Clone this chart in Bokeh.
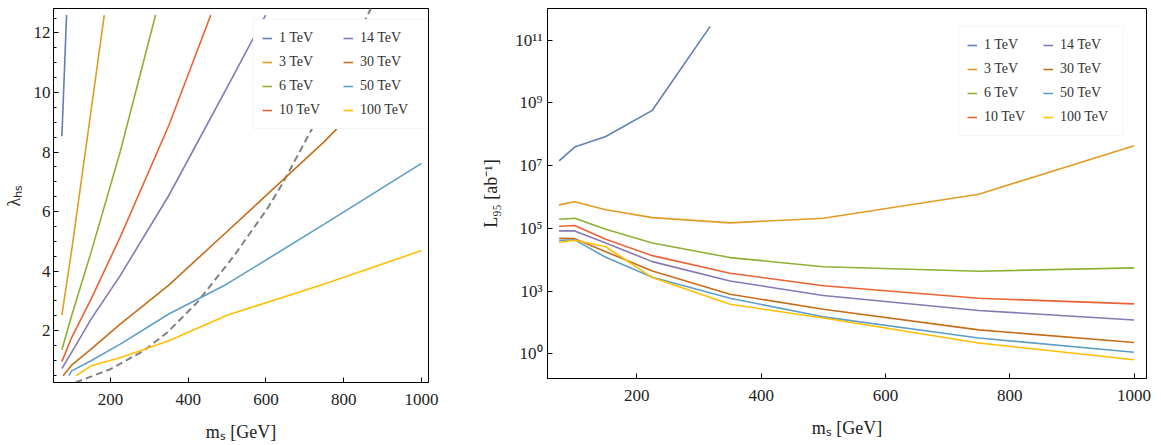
from bokeh.plotting import figure
from bokeh.models import Range1d, FixedTicker, Legend, LegendItem
from bokeh.layouts import row
from bokeh.embed import file_html
from bokeh.resources import INLINE

# ---------------- data ----------------
labels = ["1 TeV", "3 TeV", "6 TeV", "10 TeV", "14 TeV", "30 TeV", "50 TeV", "100 TeV"]
colors = ["#5E81B5", "#E19C24", "#8FB032", "#EB6235", "#8778B3", "#C56E1A", "#5D9EC7", "#FFBF00"]

# left panel: lambda_HS vs m_S
lam_m_1 = [75, 87]
lam_v_1 = [8.53, 12.6]
lam_m_3 = [75, 100, 150, 184]
lam_v_3 = [2.52, 4.69, 9.39, 12.6]
lam_m_6 = [75, 100, 150, 225, 316]
lam_v_6 = [1.36, 2.50, 4.63, 8.01, 12.6]
lam_m_10 = [75, 100, 150, 225, 350, 458]
lam_v_10 = [0.96, 1.77, 3.06, 5.14, 8.89, 12.6]
lam_m_14 = [75, 100, 150, 225, 350, 500, 599]
lam_v_14 = [0.73, 1.27, 2.39, 3.85, 6.54, 10.17, 12.6]
lam_m_30 = [78, 100, 150, 225, 350, 500, 750, 1000]
lam_v_30 = [0.49, 0.84, 1.38, 2.22, 3.53, 5.33, 8.35, 11.71]
lam_m_50 = [93, 100, 150, 225, 350, 500, 750, 1000]
lam_v_50 = [0.49, 0.65, 0.99, 1.55, 2.56, 3.57, 5.58, 7.62]
lam_m_100 = [112, 150, 225, 350, 500, 750, 1000]
lam_v_100 = [0.49, 0.82, 1.09, 1.66, 2.52, 3.57, 4.69]

dash_m = [110, 200, 286, 346, 423, 518, 603, 642, 732, 870]
dash_v = [0.26, 0.71, 1.33, 1.94, 2.95, 4.52, 6.09, 6.93, 9.11, 12.83]

# right panel: L95 vs m_S
mass_grid = [75, 100, 150, 225, 350, 500, 750, 1000]
L_m_1 = [75, 100, 150, 225, 318]
L_v_1 = [1.41e7, 3.9e7, 8.5e7, 5.8e8, 2.75e11]
L_v_3 = [5.6e5, 7.1e5, 3.9e5, 2.2e5, 1.5e5, 2.1e5, 1.23e6, 4.3e7]
L_v_6 = [1.95e5, 2.1e5, 9.3e4, 3.4e4, 1.17e4, 6.0e3, 4.3e3, 5.5e3]
L_v_10 = [1.17e5, 1.23e5, 4.5e4, 1.35e4, 3.7e3, 1.48e3, 590, 390]
L_v_14 = [8.3e4, 8.3e4, 3.4e4, 8.7e3, 2.1e3, 720, 240, 120]
L_v_30 = [4.8e4, 4.7e4, 1.8e4, 4.4e3, 790, 263, 58, 23]
L_v_50 = [4.1e4, 4.3e4, 1.2e4, 2.75e3, 590, 151, 32, 11.2]
L_v_100 = [3.6e4, 4.2e4, 2.6e4, 2.7e3, 380, 138, 22, 6.5]

x_ticks = [200, 400, 600, 800, 1000]
lam_ticks = [2, 4, 6, 8, 10, 12]
lam_minor = [0.5, 1, 1.5, 2.5, 3, 3.5, 4.5, 5, 5.5, 6.5, 7, 7.5, 8.5, 9, 9.5, 10.5, 11, 11.5, 12.5]
L_ticks = [10.0, 1e3, 1e5, 1e7, 1e9, 1e11]
L_tick_labels = ["10⁰", "10³", "10⁵", "10⁷", "10⁹", "10¹¹"]

x_title = "mₛ [GeV]"
left_y_title = "λₕₛ"
right_y_title = "L₉₅ [ab⁻¹]"

FONT = "Liberation Serif"
TXT = "#222222"


def style(p):
    p.grid.visible = False
    p.outline_line_color = "black"
    p.outline_line_width = 1
    p.background_fill_color = "white"
    p.border_fill_color = "white"
    for ax in (p.xaxis[0], p.yaxis[0]):
        ax.axis_line_color = "black"
        ax.major_tick_in = 5
        ax.major_tick_out = 0
        ax.minor_tick_in = 3
        ax.minor_tick_out = 0
        ax.major_tick_line_color = "black"
        ax.minor_tick_line_color = "black"
        ax.major_label_text_font = FONT
        ax.major_label_text_font_size = "17px"
        ax.major_label_text_color = TXT
        ax.axis_label_text_font = FONT
        ax.axis_label_text_font_size = "18px"
        ax.axis_label_text_font_style = "normal"
        ax.axis_label_text_color = TXT


def make_legend(p, rends, loc, lw):
    items = [LegendItem(label=l, renderers=[r]) for l, r in zip(labels, rends)]
    leg = Legend(items=items, location=loc, ncols=2,
                 label_text_font=FONT, label_text_font_size="14px",
                 label_text_color="#333333", glyph_width=10, glyph_height=20,
                 label_height=20, label_width=lw, label_standoff=7, spacing=4,
                 padding=8, margin=0, border_line_color="#ececec",
                 border_line_width=1, background_fill_color="white",
                 background_fill_alpha=1.0)
    p.add_layout(leg)


# ---------------- left figure ----------------
p1 = figure(frame_width=375, frame_height=374, min_border_left=53,
            min_border_right=40, min_border_top=6, min_border_bottom=64,
            x_range=Range1d(53.4, 1018), y_range=Range1d(0.26, 12.82),
            output_backend="svg", toolbar_location=None)
style(p1)
p1.xaxis.ticker = FixedTicker(ticks=x_ticks, minor_ticks=[])
p1.yaxis.ticker = FixedTicker(ticks=lam_ticks, minor_ticks=lam_minor)
p1.xaxis.axis_label = x_title
p1.yaxis.axis_label = left_y_title
p1.xaxis.major_label_standoff = 11
p1.xaxis.axis_label_standoff = 14
p1.yaxis.major_label_standoff = 3
p1.yaxis.axis_label_standoff = 7

left_series = [(lam_m_1, lam_v_1), (lam_m_3, lam_v_3), (lam_m_6, lam_v_6),
               (lam_m_10, lam_v_10), (lam_m_14, lam_v_14), (lam_m_30, lam_v_30),
               (lam_m_50, lam_v_50), (lam_m_100, lam_v_100)]
p1.line(dash_m, dash_v, line_color="#808080", line_width=2, line_dash="7 4")
r_left = []
for (mm, vv), c in zip(left_series, colors):
    r_left.append(p1.line(mm, vv, line_color=c, line_width=1.6))
make_legend(p1, r_left, (200, 253), 60)

# ---------------- right figure ----------------
p2 = figure(frame_width=599, frame_height=370, min_border_left=79,
            min_border_right=14, min_border_top=8, min_border_bottom=66,
            x_range=Range1d(56.3, 1020), y_range=Range1d(10 ** 0.213, 10 ** 12.01),
            y_axis_type="log", output_backend="svg", toolbar_location=None)
style(p2)
p2.xaxis.ticker = FixedTicker(ticks=x_ticks, minor_ticks=[])
p2.yaxis.ticker = FixedTicker(ticks=L_ticks, minor_ticks=[])
p2.yaxis.major_label_overrides = dict(zip(L_ticks, L_tick_labels))
p2.xaxis.axis_label = x_title
p2.yaxis.axis_label = right_y_title
p2.xaxis.major_label_standoff = 11
p2.xaxis.axis_label_standoff = 14
p2.yaxis.major_label_standoff = 5
p2.yaxis.axis_label_standoff = 11

right_series = [(L_m_1, L_v_1), (mass_grid, L_v_3), (mass_grid, L_v_6),
                (mass_grid, L_v_10), (mass_grid, L_v_14), (mass_grid, L_v_30),
                (mass_grid, L_v_50), (mass_grid, L_v_100)]
r_right = []
for (mm, vv), c in zip(right_series, colors):
    r_right.append(p2.line(mm, vv, line_color=c, line_width=1.6))
make_legend(p2, r_right, (411, 242), 55)

layout = row(p1, p2)
open("out.html", "w").write(file_html(layout, INLINE))
